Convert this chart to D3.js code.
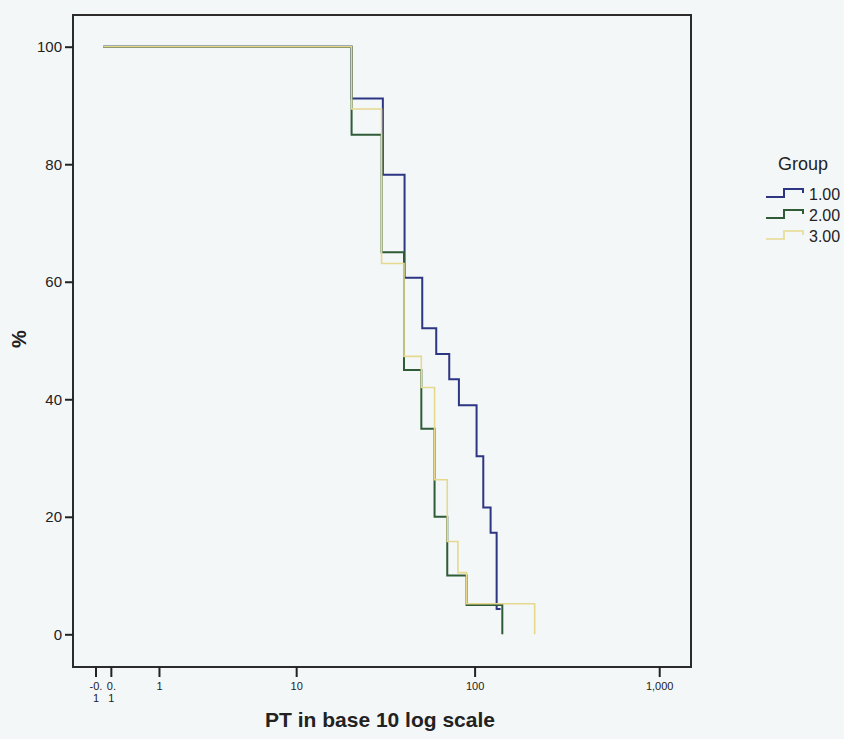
<!DOCTYPE html>
<html>
<head>
<meta charset="utf-8">
<script src="https://cdn.jsdelivr.net/npm/d3@7"></script>
<style>
  body { margin: 0; background: #f4f7f8; }
  svg { font-family: "Liberation Sans", Arial, sans-serif; }
</style>
</head>
<body>
<div id="vis-container"></div>
<script>
// Survival steps (time in PT, value in %)
var groups = ["1.00", "2.00", "3.00"];
var colors = ["#2d3682", "#2f5b37", "#e6d98e"];
var widths = [2, 2, 1.6];

var g1Time = [0, 20.9, 31.3, 41.3, 51.7, 61.7, 72.7, 82.1, 102.5, 111.5, 122.2, 131.8, 138.5];
var g1Pct  = [100, 91.2, 78.2, 60.7, 52.1, 47.7, 43.4, 39.0, 30.3, 21.6, 17.3, 4.3, 4.3];
var g2Time = [0, 20.9, 30.8, 41.0, 51.1, 60.4, 70.9, 90.4, 141.5];
var g2Pct  = [100, 85, 65, 45, 35, 20, 10, 5, 0];
var g3Time = [0, 20.9, 30.8, 41.0, 51.1, 60.4, 70.9, 81.1, 90.4, 212];
var g3Pct  = [100, 89.4, 63.1, 47.3, 42.0, 26.3, 15.8, 10.5, 5.2, 0];

var xTicks = [-0.1, 0.1, 1, 10, 100, 1000];
var xTickLabels = ["-0.\n1", "0.\n1", "1", "10", "100", "1,000"];
var yTicks = [0, 20, 40, 60, 80, 100];

var margin = { top: 15, right: 153, bottom: 72, left: 73 };
var width = 844 - margin.left - margin.right;
var height = 739 - margin.top - margin.bottom;

var svg = d3.select("#vis-container")
  .append("svg")
  .attr("width", 844)
  .attr("height", 739)
  .style("background", "#f4f7f8");

var plot = svg.append("g")
  .attr("transform", "translate(" + margin.left + "," + margin.top + ")");

// x axis is log10(PT + 1), same shape as symlog
var xScale = d3.scaleSymlog().constant(1).domain([-0.455, 1485]).range([0, width]);
var yScale = d3.scaleLinear().domain([0, 100]).range([619.3, 31.7]);

// frame
plot.append("rect")
  .attr("width", width)
  .attr("height", height)
  .attr("fill", "#f3f7f8")
  .attr("stroke", "#2b2b2b")
  .attr("stroke-width", 2);

var xAxis = plot.append("g")
  .attr("transform", "translate(0," + height + ")")
  .call(d3.axisBottom(xScale).tickValues(xTicks).tickSize(10).tickPadding(5)
    .tickFormat(function (d, i) { return xTickLabels[i]; }));
xAxis.select(".domain").remove();
xAxis.selectAll("line").attr("stroke", "#222").attr("stroke-width", 2);
xAxis.selectAll("text").each(function () {
  var t = d3.select(this);
  var parts = t.text().split("\n");
  t.text(null);
  parts.forEach(function (p, i) {
    t.append("tspan").attr("x", 0).attr("dy", i === 0 ? "0.71em" : "1.15em").text(p);
  });
})
  .attr("fill", "#222")
  .style("font-size", "11px");

var yAxis = plot.append("g")
  .call(d3.axisLeft(yScale).tickValues(yTicks).tickSize(8).tickPadding(3));
yAxis.select(".domain").remove();
yAxis.selectAll("line").attr("stroke", "#222").attr("stroke-width", 2);
yAxis.selectAll("text").attr("fill", "#222").style("font-size", "15px");

// step lines
var line = d3.line()
  .curve(d3.curveStepAfter)
  .x(function (d) { return xScale(d[0]); })
  .y(function (d) { return yScale(d[1]); });

var series = [d3.zip(g1Time, g1Pct), d3.zip(g2Time, g2Pct), d3.zip(g3Time, g3Pct)];
// draw 1, 2 then 3 on top
series.forEach(function (s, i) {
  plot.append("path")
    .datum(s)
    .attr("fill", "none")
    .attr("stroke", colors[i])
    .attr("stroke-width", widths[i])
    .attr("d", line);
});

// axis titles
svg.append("text")
  .attr("x", 380)
  .attr("y", 727)
  .style("text-anchor", "middle")
  .style("font-size", "21px")
  .style("font-weight", "bold")
  .attr("fill", "#222")
  .text("PT in base 10 log scale");

svg.append("text")
  .attr("transform", "translate(26,339) rotate(-90)")
  .style("text-anchor", "middle")
  .style("font-size", "20px")
  .style("font-weight", "bold")
  .attr("fill", "#222")
  .text("%");

// legend
var legend = svg.append("g").attr("transform", "translate(766,0)");
legend.append("text")
  .attr("x", 37)
  .attr("y", 170)
  .style("text-anchor", "middle")
  .style("font-size", "18px")
  .attr("fill", "#222")
  .text("Group");

groups.forEach(function (name, i) {
  var y = 197 + i * 21;
  legend.append("path")
    .attr("d", "M0," + y + "H18V" + (y - 8) + "H37V" + (y - 4))
    .attr("fill", "none")
    .attr("stroke", colors[i])
    .attr("stroke-width", widths[i]);
  legend.append("text")
    .attr("x", 43)
    .attr("y", y + 3)
    .style("font-size", "16px")
    .attr("fill", "#222")
    .text(name);
});
</script>
</body>
</html>
